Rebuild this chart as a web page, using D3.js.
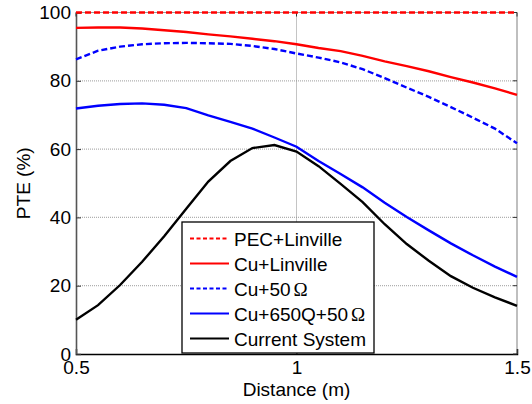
<!DOCTYPE html>
<html>
<head>
<meta charset="utf-8">
<script src="https://cdn.jsdelivr.net/npm/d3@7"></script>
<style>
  body { margin: 0; background: #fff; }
  svg text { font-family: "Liberation Sans", Arial, sans-serif; }
</style>
</head>
<body>
<div id="chart"></div>
<script>
// distances in metres
var distance = [0.5, 0.55, 0.6, 0.65, 0.7, 0.75, 0.8, 0.85, 0.9, 0.95, 1.0,
                1.05, 1.1, 1.15, 1.2, 1.25, 1.3, 1.35, 1.4, 1.45, 1.5];

var pecLinville = [100, 100, 100, 100, 100, 100, 100, 100, 100, 100, 100,
                   100, 100, 100, 100, 100, 100, 100, 100, 100, 100];
var cuLinville = [95.5, 95.6, 95.6, 95.3, 94.8, 94.3, 93.6, 93.0, 92.3, 91.6, 90.7,
                  89.6, 88.7, 87.3, 85.7, 84.3, 82.8, 81.1, 79.5, 77.8, 75.9];
var cu50 = [86.3, 88.8, 90.0, 90.7, 91.0, 91.1, 91.0, 90.8, 90.2, 89.3, 88.0,
            86.8, 85.4, 83.4, 80.8, 78.0, 75.3, 72.3, 69.2, 66.0, 61.7];
var cu650 = [71.9, 72.7, 73.2, 73.4, 73.0, 72.0, 69.9, 68.0, 66.0, 63.4, 60.7,
             56.5, 52.7, 48.8, 44.3, 40.1, 36.2, 32.4, 28.9, 25.6, 22.6];
var current = [10.0, 14.3, 20.2, 27.0, 34.5, 42.5, 50.5, 56.5, 60.3, 61.2, 59.3,
               55.0, 49.8, 44.5, 38.0, 32.2, 27.3, 22.8, 19.4, 16.6, 14.1];

var xTicks = [0.5, 1, 1.5];
var yTicks = [0, 20, 40, 60, 80, 100];

var series = [
  { name: "PEC+Linville", values: pecLinville, color: "#ff0000", dash: "6,3" },
  { name: "Cu+Linville", values: cuLinville, color: "#ff0000", dash: null },
  { name: "Cu+50", omega: true, values: cu50, color: "#0000ff", dash: "6,3" },
  { name: "Cu+650Q+50", omega: true, values: cu650, color: "#0000ff", dash: null },
  { name: "Current System", values: current, color: "#000000", dash: null }
];

var margin = { top: 12.5, right: 15, bottom: 50, left: 76 },
    width = 532 - margin.left - margin.right,
    height = 404 - margin.top - margin.bottom;

var svg = d3.select("#chart")
    .append("svg")
    .attr("width", 532)
    .attr("height", 404)
    .append("g")
    .attr("transform", "translate(" + margin.left + "," + margin.top + ")");

var x = d3.scaleLinear().domain([0.5, 1.5]).range([0, width]);
var y = d3.scaleLinear().domain([0, 100]).range([height, 0]);

// grid
svg.selectAll(".hgrid")
    .data(yTicks.slice(1, -1))
    .enter()
    .append("line")
    .attr("x1", 0)
    .attr("x2", width)
    .attr("y1", function (d) { return y(d); })
    .attr("y2", function (d) { return y(d); })
    .style("stroke", "#b0b0b0")
    .style("stroke-width", 1.3)
    .style("stroke-dasharray", "1,1");

svg.selectAll(".vgrid")
    .data(xTicks.slice(1, -1))
    .enter()
    .append("line")
    .attr("x1", function (d) { return x(d); })
    .attr("x2", function (d) { return x(d); })
    .attr("y1", 0)
    .attr("y2", height)
    .style("stroke", "#888")
    .style("stroke-width", 1)
    .style("stroke-dasharray", "1,1");

// frame: top and right in grey
svg.append("line").attr("x1", 0).attr("x2", width).attr("y1", 0).attr("y2", 0)
    .style("stroke", "#999").style("stroke-width", 1.2);
svg.append("line").attr("x1", width).attr("x2", width).attr("y1", 0).attr("y2", height)
    .style("stroke", "#aaa").style("stroke-width", 1.5);

// axes with inward ticks
var xAxis = svg.append("g")
    .attr("transform", "translate(0," + height + ")")
    .call(d3.axisBottom(x).tickValues(xTicks).tickSize(-5).tickPadding(7)
        .tickFormat(function (d) { return d3.format("")(d); }));
xAxis.select(".domain").style("stroke", "#000").style("stroke-width", 1.5);

var yAxis = svg.append("g")
    .call(d3.axisLeft(y).tickValues(yTicks).tickSize(-5).tickPadding(5));
yAxis.select(".domain").style("stroke", "#555").style("stroke-width", 1.6);

svg.selectAll(".tick text")
    .style("font-size", "19px")
    .style("fill", "#000");
svg.selectAll(".tick line").style("stroke", "#333");

// opposite side ticks
svg.selectAll(".rtick")
    .data(yTicks)
    .enter()
    .append("line")
    .attr("x1", width - 4)
    .attr("x2", width)
    .attr("y1", function (d) { return y(d); })
    .attr("y2", function (d) { return y(d); })
    .style("stroke", "#333");
svg.selectAll(".ttick")
    .data(xTicks)
    .enter()
    .append("line")
    .attr("x1", function (d) { return x(d); })
    .attr("x2", function (d) { return x(d); })
    .attr("y1", 0)
    .attr("y2", 4)
    .style("stroke", "#333");

// curves
var line = d3.line()
    .x(function (d, i) { return x(distance[i]); })
    .y(function (d) { return y(d); });

svg.selectAll(".curve")
    .data(series)
    .enter()
    .append("path")
    .attr("d", function (d) { return line(d.values); })
    .style("fill", "none")
    .style("stroke", function (d) { return d.color; })
    .style("stroke-width", 2.4)
    .style("stroke-dasharray", function (d) { return d.dash; });

// legend
var legend = svg.append("g").attr("transform", "translate(" + (182 - margin.left) + "," + (222 - margin.top) + ")");
legend.append("rect")
    .attr("x", 0)
    .attr("y", 0)
    .attr("width", 192)
    .attr("height", 131)
    .style("fill", "#fff")
    .style("stroke", "#000")
    .style("stroke-width", 1.3);

var rows = legend.selectAll(".row")
    .data(series)
    .enter()
    .append("g")
    .attr("transform", function (d, i) { return "translate(0," + (16.5 + i * 25) + ")"; });

rows.append("line")
    .attr("x1", 8)
    .attr("x2", 47)
    .attr("y1", 0)
    .attr("y2", 0)
    .style("stroke", function (d) { return d.color; })
    .style("stroke-width", 1.8)
    .style("stroke-dasharray", function (d) { return d.dash ? "4,2.5" : null; });

var labels = rows.append("text")
    .attr("x", 52)
    .attr("y", 7)
    .style("font-size", "19px")
    .text(function (d) { return d.name; });
labels.filter(function (d) { return d.omega; })
    .append("tspan")
    .attr("dx", 3)
    .style("font-family", "'Liberation Serif', serif")
    .text("\u03A9");

// axis labels
svg.append("text")
    .attr("x", x(1))
    .attr("y", height + 42)
    .attr("text-anchor", "middle")
    .style("font-size", "19px")
    .text("Distance (m)");

svg.append("text")
    .attr("transform", "translate(" + (30 - margin.left) + "," + (height / 2) + ") rotate(-90)")
    .attr("text-anchor", "middle")
    .style("font-size", "19px")
    .text("PTE (%)");
</script>
</body>
</html>
